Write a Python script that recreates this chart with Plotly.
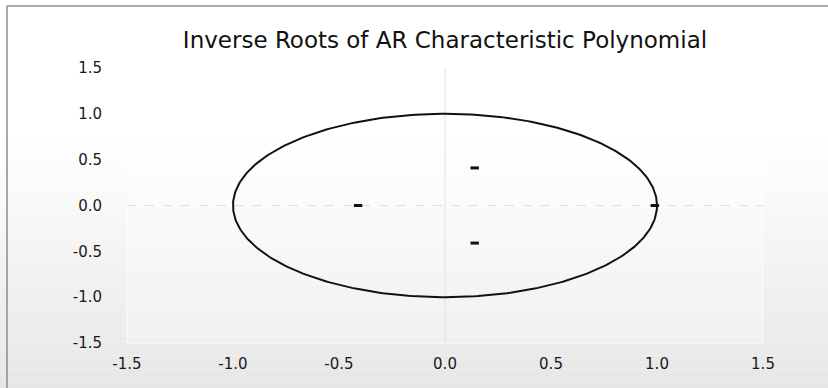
import numpy as np
import plotly.graph_objects as go

# ---- data ----
title_text = "Inverse Roots of AR Characteristic Polynomial"
root_re = [-0.41, 0.14, 0.14, 0.99]
root_im = [0.0, 0.41, -0.41, 0.0]
unit_radius = 1.0
tick_vals = [-1.5, -1.0, -0.5, 0.0, 0.5, 1.0, 1.5]
tick_text = ["-1.5", "-1.0", "-0.5", "0.0", "0.5", "1.0", "1.5"]
axis_range = [-1.5, 1.5]

W, H = 828, 388
L, R, T, B = 127, 65, 68, 45
PW, PH = W - L - R, H - T - B


def px_x(p):
    return (p - L) / PW


def px_y(p):
    return (H - B - p) / PH


fig = go.Figure()

# unit circle
theta = np.linspace(0, 2 * np.pi, 361)
fig.add_trace(go.Scatter(
    x=unit_radius * np.cos(theta), y=unit_radius * np.sin(theta),
    mode="lines", line=dict(color="#111111", width=2),
    hoverinfo="skip", showlegend=False,
))

# inverse roots
fig.add_trace(go.Scatter(
    x=root_re, y=root_im, mode="markers",
    marker=dict(symbol="line-ew-open", size=6, color="#111111",
                line=dict(color="#111111", width=3)),
    showlegend=False,
))

shapes = []
# background gradient (white at top to light gray at bottom)
n = 60
for i in range(n):
    y0p = i * H / n
    y1p = (i + 1) * H / n
    mid = (y0p + y1p) / 2
    if mid < 140:
        v = 255
    else:
        f = (mid - 140) / (H - 140)
        v = int(round(255 - f * (255 - 230)))
    shapes.append(dict(
        type="rect", xref="paper", yref="paper",
        x0=px_x(0), x1=px_x(W), y0=px_y(y1p), y1=px_y(y0p),
        fillcolor=f"rgb({v},{v},{v})", line=dict(width=0), layer="below",
    ))
# plot area slightly lighter
shapes.append(dict(
    type="rect", xref="paper", yref="paper", x0=0, x1=1, y0=0, y1=1,
    fillcolor="rgba(255,255,255,0.3)", line=dict(color="rgba(255,255,255,0.8)", width=1),
    layer="below",
))
# outer frame (top and left)
shapes.append(dict(type="line", xref="paper", yref="paper",
                   x0=px_x(7), x1=px_x(W), y0=px_y(6), y1=px_y(6),
                   line=dict(color="#8c8c8c", width=1.5)))
shapes.append(dict(type="line", xref="paper", yref="paper",
                   x0=px_x(7), x1=px_x(7), y0=px_y(6), y1=px_y(H),
                   line=dict(color="#8c8c8c", width=1.5)))
# zero lines
shapes.append(dict(type="line", xref="paper", yref="y", x0=0, x1=1, y0=0, y1=0,
                   line=dict(color="#dedede", width=1, dash="dash"), layer="below"))
shapes.append(dict(type="line", xref="x", yref="paper", x0=0, x1=0, y0=0, y1=1,
                   line=dict(color="#e2e2e2", width=1), layer="below"))

font_tick = dict(family="DejaVu Sans", size=15, color="#1a1a1a")

fig.update_layout(
    width=W, height=H,
    margin=dict(l=L, r=R, t=T, b=B, autoexpand=False),
    paper_bgcolor="white",
    plot_bgcolor="rgba(0,0,0,0)",
    shapes=shapes,
    title=dict(text=title_text, x=0.5, xref="paper", xanchor="center",
               y=1 - 40 / H, yanchor="middle",
               font=dict(family="DejaVu Sans", size=23, color="#111111")),
    xaxis=dict(range=axis_range, tickvals=tick_vals, ticktext=tick_text,
               showgrid=False, zeroline=False, showline=False,
               ticks="", tickfont=font_tick, ticklabelstandoff=10, fixedrange=True),
    yaxis=dict(range=axis_range, tickvals=tick_vals, ticktext=tick_text,
               showgrid=False, zeroline=False, showline=False,
               ticks="", tickfont=font_tick, ticklabelstandoff=24, fixedrange=True),
    showlegend=False,
)

fig.write_html("out.html")
